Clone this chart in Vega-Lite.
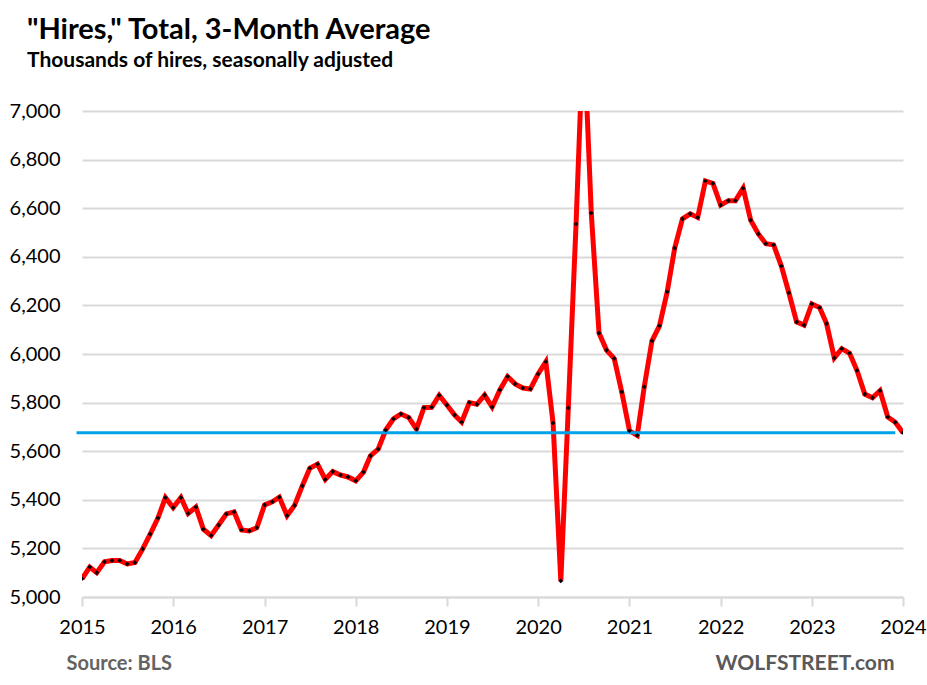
{
  "$schema": "https://vega.github.io/schema/vega-lite/v6.json",
  "width": 821,
  "height": 486,
  "autosize": {"type": "none"},
  "padding": {"left": 82, "top": 111, "right": 24, "bottom": 88},
  "background": "white",
  "config": {"view": {"stroke": null}},
  "title": {
    "text": "\"Hires,\" Total, 3-Month Average",
    "subtitle": "Thousands of hires, seasonally adjusted",
    "anchor": "start",
    "frame": "group",
    "dx": -55,
    "font": "Lato",
    "fontSize": 29,
    "fontWeight": "bold",
    "color": "#000000",
    "subtitleFont": "Lato",
    "subtitleFontSize": 21,
    "subtitleFontWeight": "bold",
    "subtitleColor": "#000000",
    "subtitlePadding": 5,
    "offset": 30
  },
  "datasets": {
    "hires": [
      {"date": "2015-01-01", "hires": 5075}, {"date": "2015-02-01", "hires": 5123}, {"date": "2015-03-01", "hires": 5100}, {"date": "2015-04-01", "hires": 5145}, {"date": "2015-05-01", "hires": 5150}, {"date": "2015-06-01", "hires": 5150}, {"date": "2015-07-01", "hires": 5136}, {"date": "2015-08-01", "hires": 5142}, {"date": "2015-09-01", "hires": 5198}, {"date": "2015-10-01", "hires": 5259}, {"date": "2015-11-01", "hires": 5325}, {"date": "2015-12-01", "hires": 5409},
      {"date": "2016-01-01", "hires": 5368}, {"date": "2016-02-01", "hires": 5409}, {"date": "2016-03-01", "hires": 5344}, {"date": "2016-04-01", "hires": 5370}, {"date": "2016-05-01", "hires": 5279}, {"date": "2016-06-01", "hires": 5253}, {"date": "2016-07-01", "hires": 5296}, {"date": "2016-08-01", "hires": 5342}, {"date": "2016-09-01", "hires": 5350}, {"date": "2016-10-01", "hires": 5276}, {"date": "2016-11-01", "hires": 5272}, {"date": "2016-12-01", "hires": 5285},
      {"date": "2017-01-01", "hires": 5379}, {"date": "2017-02-01", "hires": 5392}, {"date": "2017-03-01", "hires": 5411}, {"date": "2017-04-01", "hires": 5335}, {"date": "2017-05-01", "hires": 5377}, {"date": "2017-06-01", "hires": 5457}, {"date": "2017-07-01", "hires": 5530}, {"date": "2017-08-01", "hires": 5547}, {"date": "2017-09-01", "hires": 5484}, {"date": "2017-10-01", "hires": 5516}, {"date": "2017-11-01", "hires": 5502}, {"date": "2017-12-01", "hires": 5494},
      {"date": "2018-01-01", "hires": 5478}, {"date": "2018-02-01", "hires": 5514}, {"date": "2018-03-01", "hires": 5581}, {"date": "2018-04-01", "hires": 5609}, {"date": "2018-05-01", "hires": 5687}, {"date": "2018-06-01", "hires": 5733}, {"date": "2018-07-01", "hires": 5753}, {"date": "2018-08-01", "hires": 5739}, {"date": "2018-09-01", "hires": 5691}, {"date": "2018-10-01", "hires": 5779}, {"date": "2018-11-01", "hires": 5781}, {"date": "2018-12-01", "hires": 5830},
      {"date": "2019-01-01", "hires": 5790}, {"date": "2019-02-01", "hires": 5749}, {"date": "2019-03-01", "hires": 5720}, {"date": "2019-04-01", "hires": 5800}, {"date": "2019-05-01", "hires": 5793}, {"date": "2019-06-01", "hires": 5831}, {"date": "2019-07-01", "hires": 5782}, {"date": "2019-08-01", "hires": 5852}, {"date": "2019-09-01", "hires": 5907}, {"date": "2019-10-01", "hires": 5877}, {"date": "2019-11-01", "hires": 5860}, {"date": "2019-12-01", "hires": 5856},
      {"date": "2020-01-01", "hires": 5918}, {"date": "2020-02-01", "hires": 5968}, {"date": "2020-03-01", "hires": 5716}, {"date": "2020-04-01", "hires": 5066}, {"date": "2020-05-01", "hires": 5778}, {"date": "2020-06-01", "hires": 6535}, {"date": "2020-07-01", "hires": 7350}, {"date": "2020-08-01", "hires": 6580}, {"date": "2020-09-01", "hires": 6086}, {"date": "2020-10-01", "hires": 6016}, {"date": "2020-11-01", "hires": 5981}, {"date": "2020-12-01", "hires": 5844},
      {"date": "2021-01-01", "hires": 5684}, {"date": "2021-02-01", "hires": 5665}, {"date": "2021-03-01", "hires": 5865}, {"date": "2021-04-01", "hires": 6054}, {"date": "2021-05-01", "hires": 6116}, {"date": "2021-06-01", "hires": 6256}, {"date": "2021-07-01", "hires": 6436}, {"date": "2021-08-01", "hires": 6556}, {"date": "2021-09-01", "hires": 6577}, {"date": "2021-10-01", "hires": 6562}, {"date": "2021-11-01", "hires": 6712}, {"date": "2021-12-01", "hires": 6702},
      {"date": "2022-01-01", "hires": 6613}, {"date": "2022-02-01", "hires": 6631}, {"date": "2022-03-01", "hires": 6631}, {"date": "2022-04-01", "hires": 6682}, {"date": "2022-05-01", "hires": 6551}, {"date": "2022-06-01", "hires": 6494}, {"date": "2022-07-01", "hires": 6454}, {"date": "2022-08-01", "hires": 6449}, {"date": "2022-09-01", "hires": 6362}, {"date": "2022-10-01", "hires": 6252}, {"date": "2022-11-01", "hires": 6132}, {"date": "2022-12-01", "hires": 6119},
      {"date": "2023-01-01", "hires": 6206}, {"date": "2023-02-01", "hires": 6191}, {"date": "2023-03-01", "hires": 6125}, {"date": "2023-04-01", "hires": 5984}, {"date": "2023-05-01", "hires": 6022}, {"date": "2023-06-01", "hires": 6003}, {"date": "2023-07-01", "hires": 5932}, {"date": "2023-08-01", "hires": 5835}, {"date": "2023-09-01", "hires": 5820}, {"date": "2023-10-01", "hires": 5849}, {"date": "2023-11-01", "hires": 5741}, {"date": "2023-12-01", "hires": 5719},
      {"date": "2024-01-01", "hires": 5676}
    ],
    "level": [{"start": "2014-12-10", "end": "2023-12-01", "hires": 5676}]
  },
  "layer": [
    {
      "data": {"name": "hires"},
      "mark": {"type": "line", "color": "#ff0000", "strokeWidth": 5, "clip": true},
      "encoding": {
        "x": {
          "field": "date", "type": "temporal",
          "scale": {"domain": ["2015-01-01", "2024-01-01"]},
          "axis": {
            "format": "%Y",
            "tickCount": {"interval": "year", "step": 1},
            "grid": false,
            "labelFont": "Lato", "labelFontSize": 20, "labelColor": "#000000", "labelPadding": 11,
            "labelFlush": false, "labelOverlap": false,
            "domainColor": "#d9d9d9", "domainWidth": 2,
            "tickColor": "#d9d9d9", "tickWidth": 2, "tickSize": 9,
            "title": "Source: BLS",
            "titleX": -16, "titleY": 72, "titleAlign": "left", "titleBaseline": "alphabetic", "titleAnchor": null,
            "titleFont": "Lato", "titleFontSize": 20, "titleFontWeight": "bold", "titleColor": "#636363"
          }
        },
        "y": {
          "field": "hires", "type": "quantitative",
          "scale": {"domain": [5000, 7000], "nice": false, "zero": false},
          "axis": {
            "values": [5000, 5200, 5400, 5600, 5800, 6000, 6200, 6400, 6600, 6800, 7000],
            "format": ",d",
            "ticks": false, "domain": false,
            "grid": true, "gridColor": "#d9d9d9", "gridWidth": 2,
            "labelFont": "Lato", "labelFontSize": 20, "labelColor": "#000000", "labelPadding": 22,
            "title": "WOLFSTREET.com",
            "titleAngle": 0, "titleX": 812, "titleY": 558, "titleAlign": "right", "titleBaseline": "alphabetic", "titleAnchor": null,
            "titleFont": "Lato", "titleFontSize": 21, "titleFontWeight": "bold", "titleColor": "#595959"
          }
        }
      }
    },
    {
      "data": {"name": "level"},
      "mark": {"type": "rule", "color": "#00a2e8", "strokeWidth": 3},
      "encoding": {
        "x": {"field": "start", "type": "temporal"},
        "x2": {"field": "end"},
        "y": {"field": "hires", "type": "quantitative"}
      }
    },
    {
      "data": {"name": "hires"},
      "mark": {"type": "point", "shape": "diamond", "filled": true, "color": "#000000", "size": 22, "opacity": 1, "clip": true},
      "encoding": {
        "x": {"field": "date", "type": "temporal"},
        "y": {"field": "hires", "type": "quantitative"}
      }
    }
  ]
}
